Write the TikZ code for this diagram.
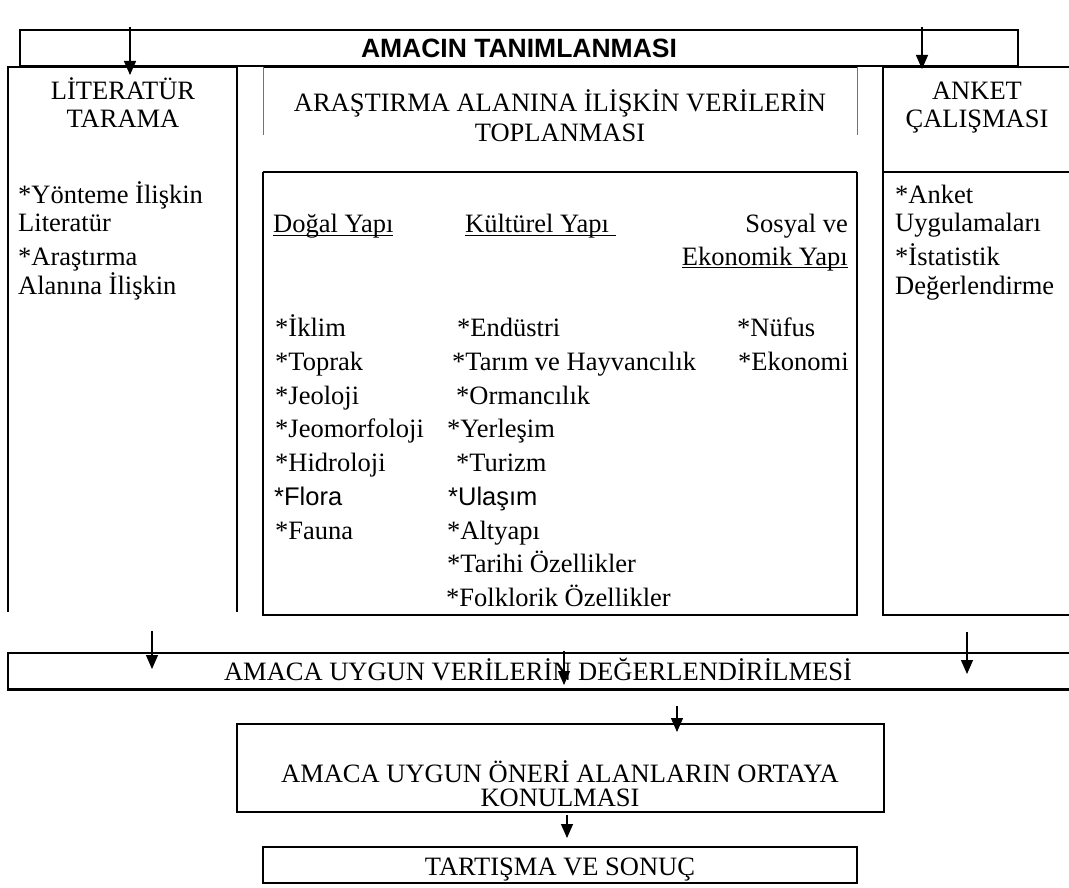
\documentclass[tikz,border=0pt]{standalone}
\usepackage{fontspec}
\setmainfont{Liberation Serif}
\newfontfamily\arialfont{Liberation Sans}
\usetikzlibrary{arrows.meta}
\newcommand\mytf{\fontsize{26.5}{30}\selectfont}
\newcommand\mysf{\arialfont\fontsize{25.5}{30}\selectfont}
\newcommand\mybold{\arialfont\bfseries\fontsize{26.5}{30}\selectfont}
\newcommand\ul[1]{\setbox0\hbox{#1}\leavevmode\rlap{\rule[-3.2pt]{\wd0}{1.6pt}}\box0}
\begin{document}
\begin{tikzpicture}[x=1pt,y=-1pt,
  box/.style={line width=2.4pt},
  hair/.style={line width=0.8pt,black!55},
  arr/.style={line width=1.3pt,-{Triangle[width=12pt,length=14pt]}},
  tl/.style={inner sep=0pt,anchor=base west,font=\mytf},
  tc/.style={inner sep=0pt,anchor=base,font=\mytf},
  tr/.style={inner sep=0pt,anchor=base east,font=\mytf},
  sl/.style={inner sep=0pt,anchor=base west,font=\mysf}]
\useasboundingbox (0,0) rectangle (1069,888);
\fill[white] (0,0) rectangle (1069,888);

% top box
\node[draw,box,minimum width=998pt,minimum height=36pt,inner sep=0pt,font=\mybold] (amac) at (519,48) {AMACIN TANIMLANMASI};
\coordinate (a1s) at (130,27); \coordinate (a1e) at (130,75);
\coordinate (a2s) at (922,27); \coordinate (a2e) at (922,69);

% left column
\draw[box] (8,612) -- (8,67) -- (237,67) -- (237,612);
% middle column
\draw[box] (263,67) -- (857,67);
\draw[hair] (263,67) -- (263,135);
\draw[hair] (857,67) -- (857,135);
\draw[box] (263,172) -- (857,172);
\draw[box] (263,172) -- (263,615) -- (857,615) -- (857,172);
% right column
\draw[box] (1069,67) -- (883,67) -- (883,615) -- (1069,615);
\draw[box] (883,172) -- (1069,172);

\draw[arr] (a1s) -- (a1e);
\draw[arr] (a2s) -- (a2e);

% left column texts
\node[tc] (lit1) at (123,100) {LİTERATÜR};
\node[tc] (lit2) at (123,128) {TARAMA};
\node[tl] (l1) at (18,204) {*Yönteme İlişkin};
\node[tl] (l2) at (18,232) {Literatür};
\node[tl] (l3) at (18,265) {*Araştırma};
\node[tl] (l4) at (18,294) {Alanına İlişkin};

% middle header
\node[tc] (mh1) at (560,112) {ARAŞTIRMA ALANINA İLİŞKİN VERİLERİN};
\node[tc] (mh2) at (560,142) {TOPLANMASI};

% middle subheads
\node[tl] (dog) at (273,233) {\ul{Doğal Yapı}};
\node[tl] (kul) at (465,233) {\ul{Kültürel Yapı\hspace{0.25em}}};
\node[tr] (sos1) at (848,233) {Sosyal ve};
\node[tr] (sos2) at (848,265) {\ul{Ekonomik Yapı}};

% column 1
\node[tl] (c11) at (275,336) {*İklim};
\node[tl] (c12) at (275,370) {*Toprak};
\node[tl] (c13) at (275,404) {*Jeoloji};
\node[tl] (c14) at (275,437) {*Jeomorfoloji};
\node[tl] (c15) at (275,471) {*Hidroloji};
\node[sl] (c16) at (274,505) {*Flora};
\node[tl] (c17) at (275,539) {*Fauna};
% column 2
\node[tl] (c21) at (457,336) {*Endüstri};
\node[tl] (c22) at (452,370) {*Tarım ve Hayvancılık};
\node[tl] (c23) at (456,404) {*Ormancılık};
\node[tl] (c24) at (447,437) {*Yerleşim};
\node[tl] (c25) at (456,471) {*Turizm};
\node[sl] (c26) at (448,505) {*Ulaşım};
\node[tl] (c27) at (447,539) {*Altyapı};
\node[tl] (c28) at (447,572) {*Tarihi Özellikler};
\node[tl] (c29) at (446,606) {*Folklorik Özellikler};
% column 3
\node[tl] (c31) at (737,336) {*Nüfus};
\node[tl] (c32) at (738,370) {*Ekonomi};

% right column texts
\node[tc] (ank1) at (977,100) {ANKET};
\node[tc] (ank2) at (977,128) {ÇALIŞMASI};
\node[tl] (r1) at (895,204) {*Anket};
\node[tl] (r2) at (895,232) {Uygulamaları};
\node[tl] (r3) at (895,265) {*İstatistik};
\node[tl] (r4) at (895,294) {Değerlendirme};

% evaluation box
\draw[box] (1069,653) -- (8,653) -- (8,689.5) -- (1069,689.5);
\node[tc] (eval) at (538,680) {AMACA UYGUN VERİLERİN DEĞERLENDİRİLMESİ};

\coordinate (b1s) at (152,631); \coordinate (b1e) at (152,669);
\coordinate (b2s) at (564,651); \coordinate (b2e) at (564,685);
\coordinate (b3s) at (967,632); \coordinate (b3e) at (967,674);
\draw[arr] (b1s) -- (b1e);
\draw[arr] (b2s) -- (b2e);
\draw[arr] (b3s) -- (b3e);

% proposal box
\node[draw,box,minimum width=647pt,minimum height=88pt,inner sep=0pt] (oneri) at (560.5,768) {};
\node[tc] (on1) at (560,782) {AMACA UYGUN ÖNERİ ALANLARIN ORTAYA};
\node[tc] (on2) at (560,806) {KONULMASI};
\coordinate (c1s) at (677,706); \coordinate (c1e) at (677,732);
\draw[arr] (c1s) -- (c1e);

% result box
\node[draw,box,minimum width=594pt,minimum height=36pt,inner sep=0pt] (sonuc) at (560,865) {};
\node[tc] (son) at (560,875) {TARTIŞMA VE SONUÇ};
\coordinate (d1s) at (567,815); \coordinate (d1e) at (567,838);
\draw[arr] (d1s) -- (d1e);
\end{tikzpicture}
\end{document}
